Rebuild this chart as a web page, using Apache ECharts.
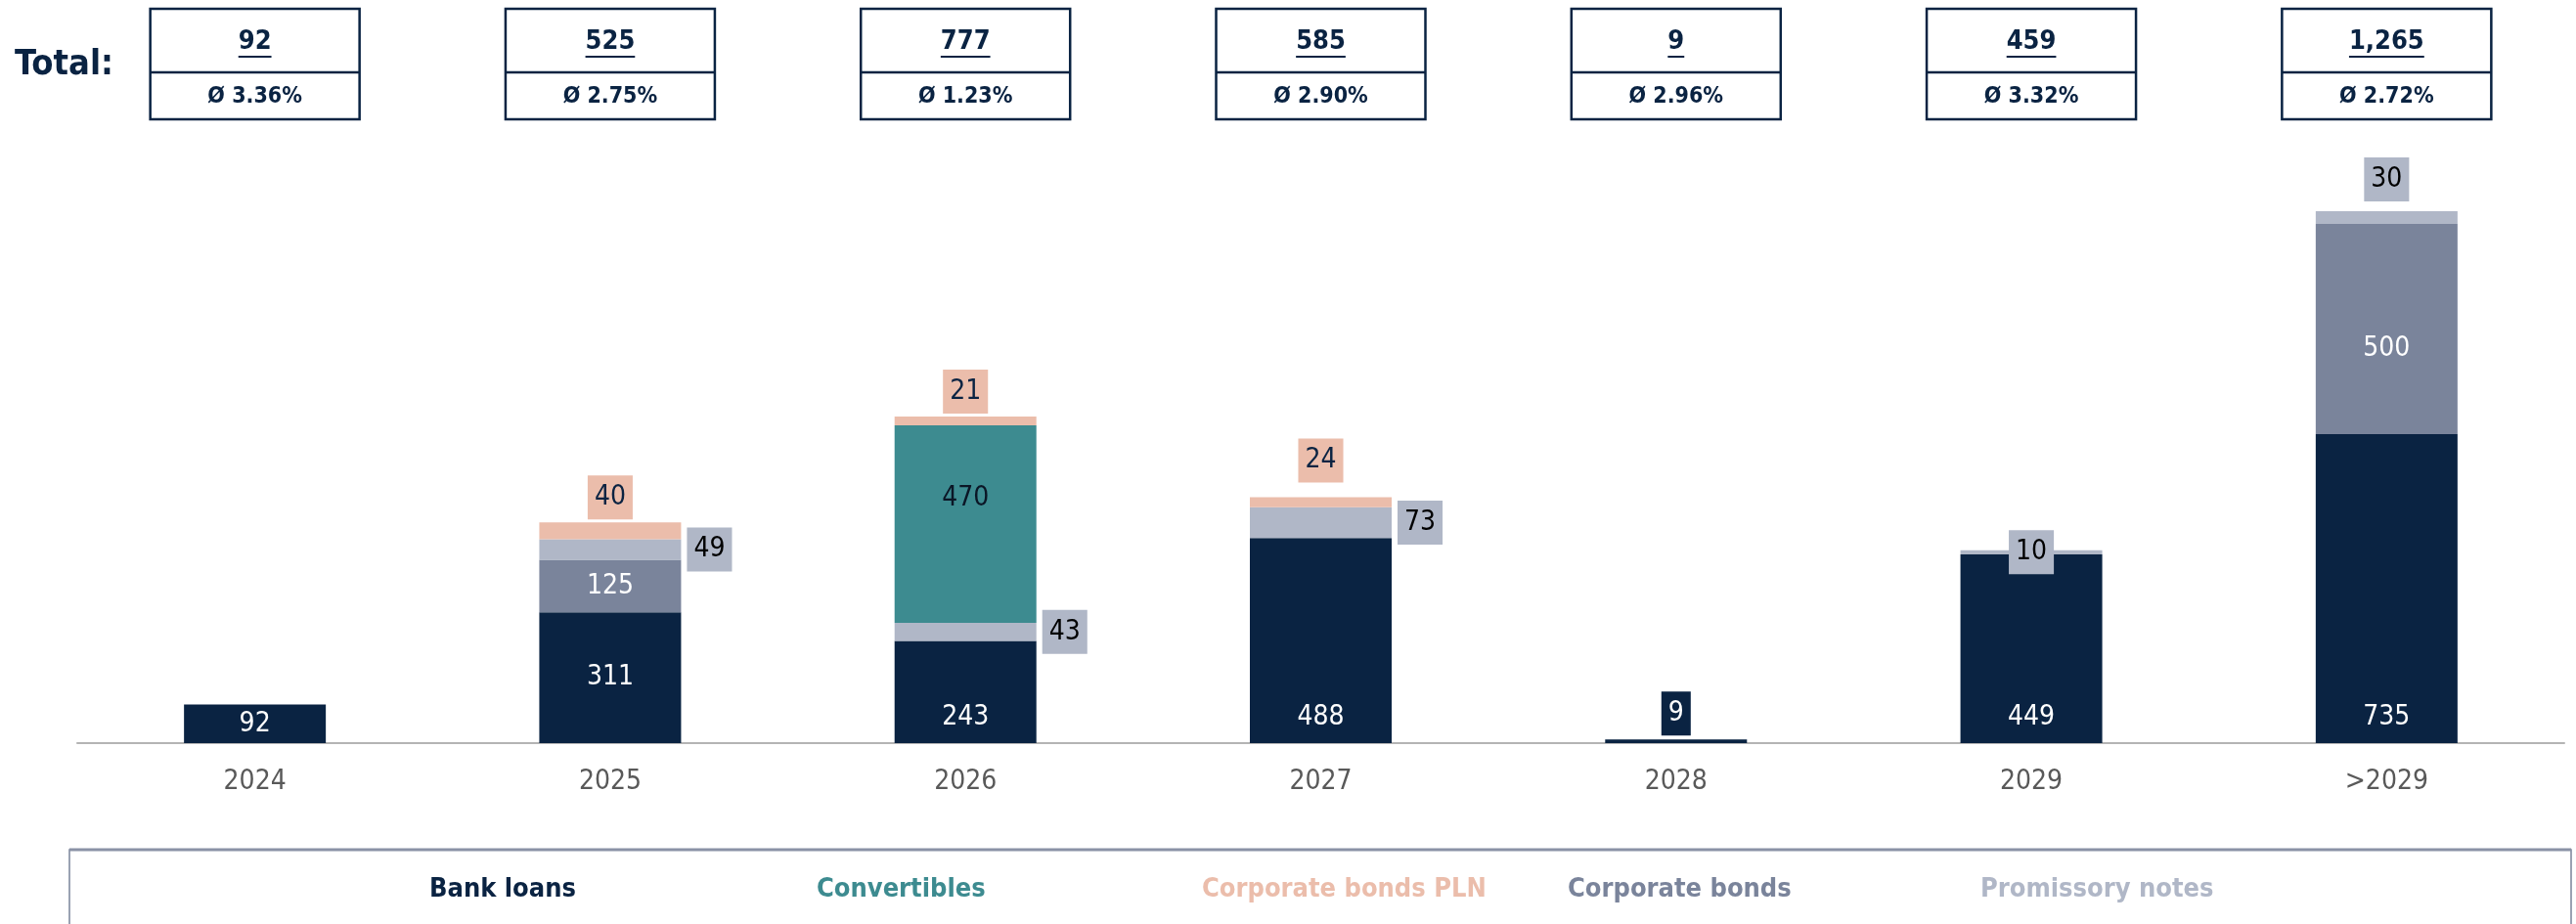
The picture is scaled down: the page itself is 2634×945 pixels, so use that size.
<!DOCTYPE html>
<html>
<head>
<meta charset="utf-8">
<title>Debt maturity profile</title>
<script src="https://cdn.jsdelivr.net/npm/echarts@6/dist/echarts.min.js"></script>
<style>
  html, body { margin: 0; padding: 0; background: #fff; }
  #chart { width: 2634px; height: 945px; }
</style>
</head>
<body>
<div id="chart"></div>
<script>
// values
var categories = ['2024', '2025', '2026', '2027', '2028', '2029', '>2029'];
var bankLoans = [92, 311, 243, 488, 9, 449, 735];
var corporateBonds = [null, 125, null, null, null, null, 500];
var promissoryNotes = [null, 49, 43, 73, null, 10, 30];
var convertibles = [null, null, 470, null, null, null, null];
var corporateBondsPln = [null, 40, 21, 24, null, null, null];
var avgRates = ['3.36', '2.75', '1.23', '2.90', '2.96', '3.32', '2.72'];

var FONT = '"Liberation Sans Narrow", "Arial Narrow", "DejaVu Sans Condensed", sans-serif';
var NAVY = '#0a2342';
var TEAL = '#3d8b90';
var PEACH = '#ebbdab';
var SLATE = '#7a849b';
var LIGHT = '#b0b7c7';
var LABEL_SIZE = 28;

var chart = echarts.init(document.getElementById('chart'));

// per-point label tweaks
function bankLabel(i) {
  if (i === 4) {
    return { position: 'top', distance: 4, backgroundColor: NAVY, color: '#fff', padding: [7, 7], lineHeight: 31 };
  }
  if (i === 0 || i === 1) return { position: 'inside' };
  return { position: 'insideBottom', distance: 12 };
}
function promLabel(i) {
  if (i === 5) return { position: 'inside' };
  if (i === 6) return { position: 'top', distance: 10 };
  return { position: 'right', distance: 6 };
}
function plnLabel(i) {
  return { position: 'top', distance: i === 3 ? 15 : 3 };
}

function buildData(values, labelFn) {
  return values.map(function (v, i) {
    if (v == null) return null;
    return labelFn ? { value: v, label: labelFn(i) } : v;
  });
}

var boxLabel = function (bg, color) {
  return {
    show: true,
    color: color,
    fontSize: LABEL_SIZE,
    fontFamily: FONT,
    backgroundColor: bg,
    padding: [7, 7],
    lineHeight: 31
  };
};

var series = [
  {
    name: 'Bank loans',
    color: NAVY,
    data: buildData(bankLoans, bankLabel),
    label: { show: true, color: '#fff', fontSize: LABEL_SIZE, fontFamily: FONT }
  },
  {
    name: 'Corporate bonds',
    color: SLATE,
    data: buildData(corporateBonds, function (i) { return { offset: [0, i === 6 ? 20 : 0] }; }),
    label: { show: true, position: 'inside', color: '#fff', fontSize: LABEL_SIZE, fontFamily: FONT }
  },
  {
    name: 'Promissory notes',
    color: LIGHT,
    data: buildData(promissoryNotes, promLabel),
    label: boxLabel(LIGHT, '#000')
  },
  {
    name: 'Convertibles',
    color: TEAL,
    data: buildData(convertibles),
    label: { show: true, position: 'inside', offset: [0, -26], color: '#0b1626', fontSize: LABEL_SIZE, fontFamily: FONT }
  },
  {
    name: 'Corporate bonds PLN',
    color: PEACH,
    data: buildData(corporateBondsPln, plnLabel),
    label: boxLabel(PEACH, NAVY)
  }
].map(function (s) {
  return Object.assign({
    type: 'bar',
    stack: 'debt',
    barWidth: 145,
    itemStyle: { color: s.color },
    emphasis: { disabled: true }
  }, s);
});

var measure = document.createElement('canvas').getContext('2d');
function textWidth(str, font) {
  measure.font = font;
  return measure.measureText(str).width;
}

// legend entries, placed by their centre
var LEGEND_SIZE = 27;
var legendItems = [
  { name: 'Bank loans', color: NAVY, center: 514 },
  { name: 'Convertibles', color: TEAL, center: 921 },
  { name: 'Corporate bonds PLN', color: PEACH, center: 1374 },
  { name: 'Corporate bonds', color: SLATE, center: 1717 },
  { name: 'Promissory notes', color: LIGHT, center: 2144 }
];

chart.setOption({
  animation: false,
  textStyle: { fontFamily: FONT },
  grid: { left: 79, right: 12, top: 158, bottom: 185 },
  xAxis: {
    type: 'category',
    data: categories,
    axisTick: { show: false },
    axisLine: { lineStyle: { color: '#b4b4b4', width: 2 } },
    axisLabel: { color: '#595959', fontSize: LABEL_SIZE, margin: 26, fontFamily: FONT }
  },
  yAxis: {
    type: 'value',
    min: 0,
    max: 1400,
    show: false,
    splitLine: { show: false }
  },
  legend: legendItems.map(function (it) {
    var w = textWidth(it.name, 'bold ' + LEGEND_SIZE + 'px ' + FONT);
    return {
      data: [it.name],
      left: Math.round(it.center - w / 2 - 5),
      top: 896,
      padding: 0,
      icon: 'none',
      itemWidth: 0,
      itemHeight: 0,
      selectedMode: false,
      textStyle: { color: it.color, fontSize: LEGEND_SIZE, fontWeight: 'bold', fontFamily: FONT }
    };
  }),
  series: series
});

// total boxes above each column
var graphics = [];
graphics.push({
  type: 'text',
  x: 15, y: 67,
  style: {
    text: 'Total:', fill: NAVY, fontSize: 36, fontWeight: 'bold', fontFamily: FONT,
    align: 'left', verticalAlign: 'middle', textAlign: 'left', textVerticalAlign: 'middle'
  }
});

var boxW = 214, boxTop = 9, boxMid = 74, boxBottom = 122;
categories.forEach(function (cat, i) {
  var cx = chart.convertToPixel({ xAxisIndex: 0 }, cat);
  var total = [bankLoans, corporateBonds, promissoryNotes, convertibles, corporateBondsPln]
    .reduce(function (sum, arr) { return sum + (arr[i] || 0); }, 0);
  var totalText = total.toLocaleString('en-US');
  var tw = textWidth(totalText, 'bold 27px ' + FONT);
  graphics.push({
    type: 'rect',
    shape: { x: cx - boxW / 2, y: boxTop, width: boxW, height: boxBottom - boxTop },
    style: { fill: '#fff', stroke: NAVY, lineWidth: 2.5 }
  });
  graphics.push({
    type: 'line',
    shape: { x1: cx - boxW / 2, y1: boxMid, x2: cx + boxW / 2, y2: boxMid },
    style: { stroke: NAVY, lineWidth: 2.5 }
  });
  graphics.push({
    type: 'text',
    x: cx, y: 43,
    style: {
      text: totalText, fill: NAVY, fontSize: 27, fontWeight: 'bold', fontFamily: FONT,
      align: 'center', verticalAlign: 'middle', textAlign: 'center', textVerticalAlign: 'middle'
    }
  });
  graphics.push({
    type: 'line',
    shape: { x1: cx - tw / 2, y1: 58, x2: cx + tw / 2, y2: 58 },
    style: { stroke: NAVY, lineWidth: 2 }
  });
  graphics.push({
    type: 'text',
    x: cx, y: 99,
    style: {
      text: '\u00d8 ' + avgRates[i] + '%', fill: NAVY, fontSize: 23, fontWeight: 'bold', fontFamily: FONT,
      align: 'center', verticalAlign: 'middle', textAlign: 'center', textVerticalAlign: 'middle'
    }
  });
});

// legend frame
graphics.push({
  type: 'rect',
  shape: { x: 71, y: 869, width: 2558, height: 100 },
  style: { fill: 'none', stroke: SLATE, lineWidth: 1.5 }
});
graphics.push({
  type: 'line',
  shape: { x1: 71, y1: 869, x2: 2629, y2: 869 },
  style: { stroke: '#8a92a6', lineWidth: 3 }
});

chart.setOption({ graphic: graphics });
</script>
</body>
</html>
